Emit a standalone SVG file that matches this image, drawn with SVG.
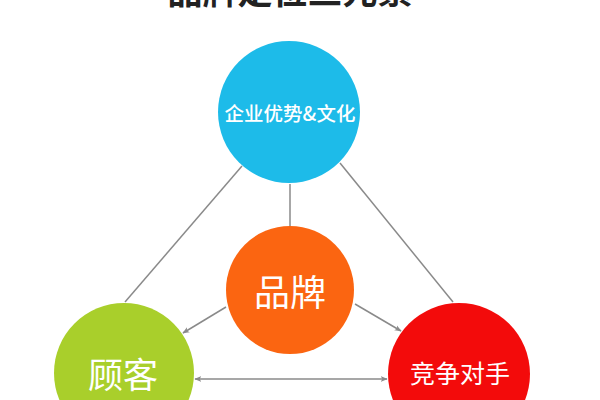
<svg xmlns="http://www.w3.org/2000/svg" width="600" height="400" viewBox="0 0 600 400">
<style>
.t{font-family:"Noto Sans CJK SC","Noto Sans",sans-serif;fill:#fff;text-anchor:middle;dominant-baseline:central}
.c{stroke:#8a8a8a;stroke-width:1.5;fill:none}
</style>
<defs>
<marker id="ah" viewBox="0 0 10 10" refX="9" refY="5" markerWidth="7" markerHeight="7" orient="auto-start-reverse" markerUnits="userSpaceOnUse">
<path d="M0,1 L10,5 L0,9 L2.5,5 Z" fill="#8a8a8a"/>
</marker>
</defs>
<rect width="600" height="400" fill="#fff"/>
<text x="290" y="4" style="font-family:'Noto Sans CJK SC',sans-serif;font-weight:700;font-size:35px;fill:#222;text-anchor:middle">品牌定位三元素</text>
<g id="connectors">
<line class="c" x1="290" y1="184" x2="290" y2="226"/>
<line class="c" x1="242" y1="166" x2="125" y2="302"/>
<line class="c" x1="340" y1="163" x2="453" y2="302"/>
<line class="c" x1="226" y1="307" x2="183" y2="333" marker-end="url(#ah)"/>
<line class="c" x1="355" y1="304" x2="401" y2="331" marker-end="url(#ah)"/>
<line class="c" x1="195" y1="379" x2="387" y2="379" marker-start="url(#ah)" marker-end="url(#ah)"/>
</g>
<g id="culture">
<circle cx="289" cy="112" r="71" fill="#1dbbe9"/>
<text class="t" x="290" y="112" style="font-size:19.5px;font-weight:500">企业优势&amp;文化</text>
</g>
<g id="brand">
<circle cx="290" cy="290" r="64" fill="#fb6511"/>
<text class="t" x="290" y="290" style="font-size:36px">品牌</text>
</g>
<g id="customer">
<circle cx="124" cy="373" r="70" fill="#a9cf2b"/>
<text class="t" x="123" y="372" style="font-size:35px">顾客</text>
</g>
<g id="competitor">
<circle cx="459" cy="374" r="71" fill="#f30b0b"/>
<text class="t" x="460" y="372" style="font-size:25px">竞争对手</text>
</g>
</svg>
